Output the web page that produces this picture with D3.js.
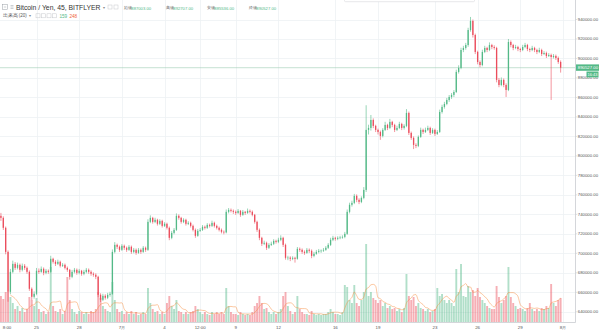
<!DOCTYPE html>
<html><head><meta charset="utf-8">
<script src="https://cdn.jsdelivr.net/npm/d3@7"></script>
<style>
html,body{margin:0;padding:0;background:#fff;overflow:hidden}
svg{display:block}
text{font-family:"Liberation Sans",Arial,sans-serif}
</style>
</head><body>
<svg id="c" width="600" height="333"></svg>
<script>
// ---- data (prices in thousand JPY, 4h candles from 2018-06-22 12:00) ----
const startTime = new Date(2018, 5, 22, 12, 0);
const candleHours = 4;
const ohlc = [
[738.5,741.5,733.3,736.4],[736.4,738.0,724.0,726.2],[726.2,727.5,699.0,701.5],[701.5,703.0,650.3,660.5],
[660.5,684.0,658.0,681.0],[681.0,692.5,679.5,689.2],[689.2,691.0,683.0,685.1],[685.1,690.5,683.5,688.2],
[688.2,689.5,680.5,683.1],[683.1,689.5,681.5,687.2],[687.2,689.0,683.0,685.1],[685.1,686.5,679.0,681.0],
[681.0,682.5,661.5,663.6],[663.6,665.0,652.0,655.4],[655.4,661.0,653.5,658.5],[658.5,685.0,657.0,682.1],
[682.1,684.5,679.0,681.0],[681.0,686.5,680.0,684.1],[684.1,685.5,677.5,680.0],[680.0,684.0,678.5,682.1],
[682.1,683.5,679.0,681.0],[681.0,697.5,680.0,694.4],[694.4,695.5,689.5,691.3],[691.3,693.0,687.0,689.2],
[689.2,693.5,688.0,691.3],[691.3,692.5,685.5,687.2],[687.2,690.0,686.0,688.2],[688.2,689.5,683.5,685.1],
[685.1,686.5,681.0,683.1],[683.1,684.0,673.0,675.9],[675.9,683.0,674.5,681.0],[681.0,685.0,679.5,683.1],
[683.1,684.5,678.0,680.0],[680.0,684.0,678.5,682.1],[682.1,683.0,677.0,679.0],[679.0,683.0,677.5,681.0],
[681.0,685.0,679.5,683.1],[683.1,684.5,679.0,681.0],[681.0,682.5,677.0,679.0],[679.0,680.5,676.0,678.0],
[678.0,679.5,673.5,675.9],[675.9,677.0,655.0,657.4],[657.4,659.0,650.0,652.3],[652.3,658.5,651.0,656.4],
[656.4,658.0,652.5,654.4],[654.4,659.5,653.0,657.4],[657.4,660.5,655.5,658.5],[658.5,704.0,657.5,701.5],
[701.5,711.5,700.0,708.7],[708.7,710.0,704.5,706.7],[706.7,708.0,701.5,703.6],[703.6,709.5,702.5,707.7],
[707.7,709.0,703.5,705.7],[705.7,707.0,701.5,703.6],[703.6,708.5,702.5,706.7],[706.7,708.0,699.5,701.5],
[701.5,705.5,700.0,703.6],[703.6,705.0,698.5,700.5],[700.5,705.5,699.5,703.6],[703.6,705.0,699.5,701.5],
[701.5,707.5,700.5,705.7],[705.7,707.0,701.5,703.6],[703.6,735.0,702.5,732.3],[732.3,739.0,731.0,736.4],
[736.4,737.5,730.5,732.3],[732.3,736.5,731.0,734.4],[734.4,735.5,728.5,730.3],[730.3,735.0,729.0,733.3],
[733.3,734.5,726.5,728.2],[728.2,732.0,727.0,730.3],[730.3,731.5,724.5,726.2],[726.2,727.5,713.5,715.9],
[715.9,723.0,714.5,721.0],[721.0,726.0,719.5,724.1],[724.1,741.0,723.0,738.5],[738.5,740.0,734.5,736.4],
[736.4,737.5,730.5,732.3],[732.3,736.0,731.0,734.4],[734.4,735.5,728.5,730.3],[730.3,733.0,729.0,731.3],
[731.3,732.5,726.5,728.2],[728.2,729.5,722.5,724.1],[724.1,725.5,716.0,718.0],[718.0,725.0,717.0,723.1],
[723.1,726.0,722.0,724.1],[724.1,729.0,723.0,727.2],[727.2,728.5,724.5,726.2],[726.2,731.0,725.0,729.2],
[729.2,730.5,726.5,728.2],[728.2,733.5,727.0,731.3],[731.3,732.5,726.5,728.2],[728.2,729.5,724.5,726.2],
[726.2,727.5,722.5,724.1],[724.1,725.5,720.5,722.1],[722.1,723.5,719.5,721.5],[721.5,745.0,720.5,742.6],
[742.6,746.5,741.0,744.6],[744.6,746.0,742.0,743.6],[743.6,745.0,740.5,742.6],[742.6,744.0,739.5,741.5],
[741.5,745.5,740.5,743.6],[743.6,744.5,737.5,739.5],[739.5,744.5,738.5,742.6],[742.6,743.5,739.5,741.5],
[741.5,746.0,740.5,743.6],[743.6,745.0,741.0,742.6],[742.6,744.0,738.0,739.5],[739.5,740.5,730.5,732.3],
[732.3,733.5,722.0,724.1],[724.1,725.5,713.5,715.9],[715.9,717.0,707.5,709.8],[709.8,713.0,708.5,710.8],
[710.8,712.0,703.5,705.7],[705.7,710.5,704.5,708.7],[708.7,712.0,707.5,709.8],[709.8,714.5,708.5,712.8],
[712.8,714.0,710.0,711.8],[711.8,716.0,710.5,713.9],[713.9,718.5,712.5,715.9],[715.9,717.0,706.5,708.7],
[708.7,710.0,693.5,695.4],[695.4,697.5,693.0,695.6],[695.6,697.0,692.0,694.4],[694.4,697.0,693.0,695.4],
[695.4,696.5,690.5,694.4],[694.4,706.5,693.5,704.6],[704.6,706.0,701.5,703.6],[703.6,705.0,699.5,701.5],
[701.5,703.0,698.5,700.5],[700.5,705.5,699.5,703.6],[703.6,705.0,700.5,702.6],[702.6,704.0,695.0,697.4],
[697.4,701.5,696.0,699.5],[699.5,703.5,698.5,701.5],[701.5,704.5,700.0,702.6],[702.6,704.0,700.5,702.8],
[702.8,705.5,701.5,703.6],[703.6,707.5,702.5,705.7],[705.7,710.5,704.5,708.7],[708.7,716.0,707.5,713.9],
[713.9,718.0,712.5,715.9],[715.9,717.0,713.0,714.9],[714.9,717.5,713.5,715.9],[715.9,718.0,714.5,716.2],
[716.2,718.5,715.0,716.9],[716.9,722.0,715.5,720.0],[720.0,745.0,719.0,742.6],[742.6,752.0,741.0,749.8],
[749.8,754.0,748.0,751.8],[751.8,761.0,750.5,759.0],[759.0,760.5,752.5,754.9],[754.9,756.5,750.5,752.8],
[752.8,758.5,751.5,756.9],[756.9,768.0,755.5,765.1],[765.1,852.0,763.0,826.7],[826.7,832.0,822.0,828.7],
[828.7,842.0,826.0,836.9],[836.9,838.5,828.5,830.8],[830.8,832.0,824.5,826.7],[826.7,828.0,822.0,824.6],
[824.6,826.0,816.5,820.5],[820.5,828.5,819.0,826.7],[826.7,835.0,825.5,831.8],[831.8,833.0,826.5,828.7],
[828.7,838.0,827.5,834.9],[834.9,836.0,829.5,831.8],[831.8,833.0,824.5,826.7],[826.7,831.0,825.5,828.7],
[828.7,835.0,827.5,832.8],[832.8,834.0,826.5,828.7],[828.7,832.5,827.0,830.8],[830.8,848.0,829.5,844.1],
[844.1,845.5,821.5,823.6],[823.6,825.0,816.5,818.5],[818.5,820.0,807.0,811.3],[811.3,813.0,808.0,810.3],
[810.3,821.0,809.0,819.5],[819.5,829.0,818.5,826.7],[826.7,828.0,822.5,824.6],[824.6,829.0,823.5,826.7],
[826.7,831.0,825.5,828.7],[828.7,830.0,821.5,823.6],[823.6,828.5,822.5,826.7],[826.7,828.0,820.5,822.6],
[822.6,826.5,821.5,824.6],[824.6,847.5,823.5,845.1],[845.1,852.5,843.5,850.3],[850.3,855.5,848.5,853.3],
[853.3,859.5,852.0,857.4],[857.4,862.5,855.5,860.5],[860.5,864.5,858.5,862.6],[862.6,867.5,860.5,865.6],
[865.6,888.5,864.5,886.2],[886.2,893.0,884.5,890.3],[890.3,911.0,889.0,908.7],[908.7,913.0,906.5,910.8],
[910.8,916.0,909.0,913.8],[913.8,931.5,912.0,929.2],[929.2,942.6,927.5,938.5],[938.5,940.0,921.5,924.1],
[924.1,925.5,904.5,906.7],[906.7,908.0,894.0,896.4],[896.4,898.0,891.0,893.3],[893.3,909.0,892.0,906.7],
[906.7,913.0,905.5,910.8],[910.8,912.0,906.5,908.7],[908.7,916.5,907.5,913.8],[913.8,915.0,909.5,911.8],
[911.8,913.5,909.0,910.8],[910.8,912.0,875.5,878.0],[878.0,880.0,870.5,872.8],[872.8,880.5,871.5,878.0],
[878.0,879.5,870.5,872.8],[872.8,874.5,860.5,867.7],[867.7,920.0,866.5,916.9],[916.9,918.5,911.5,913.8],
[913.8,915.0,908.5,910.8],[910.8,914.0,909.5,911.8],[911.8,913.0,907.5,909.7],[909.7,911.0,906.5,908.7],
[908.7,914.0,907.5,911.8],[911.8,916.0,910.5,913.8],[913.8,915.0,907.5,909.7],[909.7,911.0,906.5,908.7],
[908.7,913.0,907.5,910.8],[910.8,912.0,906.5,908.7],[908.7,910.0,904.5,906.7],[906.7,911.0,905.5,908.7],
[908.7,910.0,902.5,904.6],[904.6,907.5,903.5,905.6],[905.6,907.0,900.5,902.6],[902.6,905.5,901.5,903.6],
[903.6,905.0,857.4,901.5],[901.5,904.5,900.0,902.6],[902.6,904.0,898.5,900.5],[900.5,902.0,894.5,896.4],
[896.4,898.0,885.5,890.527]
];
const volume = [
1300,1150,1500,1500,1250,950,650,800,550,700,500,650,
1250,1100,800,1200,650,500,550,400,500,
2750,800,550,500,650,400,550,2250,
1100,650,500,400,550,500,400,500,400,550,500,650,
1500,1200,800,650,550,500,
2000,1100,650,500,550,400,500,400,550,400,500,350,400,500,400,
1700,950,650,500,550,400,500,400,950,1300,800,650,
1100,550,500,400,500,400,500,550,800,650,500,400,500,400,350,500,400,500,400,500,400,
1700,800,500,400,400,350,500,400,350,400,350,500,
800,950,1300,950,650,700,500,400,500,400,500,650,
1300,1500,800,550,400,500,
1300,650,500,400,400,350,550,400,350,400,350,400,400,500,650,500,400,400,350,500,
1850,1750,1100,950,1850,950,800,1100,1500,
3900,1300,1500,1200,1100,950,1100,800,950,700,800,650,700,550,650,500,700,
2400,1300,1100,1250,800,950,700,650,550,650,500,550,650,
1700,1300,1400,1100,950,1100,950,800,
2650,1500,2900,1300,1250,1800,1500,1600,
1300,1700,1250,1100,950,800,700,650,650,
1800,1250,950,1100,1300,
2750,1250,950,800,650,700,650,550,700,950,650,550,650,550,700,650,800,700,1900,950,800,1100,1200
];
const priceTicks = [640000,660000,680000,700000,720000,740000,760000,780000,800000,820000,840000,860000,880000,900000,920000,940000];
const timeTicks = [
  [new Date(2018,5,22,8), "8:00"], [new Date(2018,5,25), "25"], [new Date(2018,5,28), "28"],
  [new Date(2018,6,1), "7月"], [new Date(2018,6,4), "4"], [new Date(2018,6,6,12), "12:00"],
  [new Date(2018,6,9), "9"], [new Date(2018,6,12), "12"], [new Date(2018,6,16), "16"],
  [new Date(2018,6,19), "19"], [new Date(2018,6,23), "23"], [new Date(2018,6,26), "26"],
  [new Date(2018,6,29), "29"], [new Date(2018,7,1), "8月"]
];
const headerLabels = ["始値","高値","安値","終値"];
const headerValues = ["887003.00","892707.00","885536.00","890527.00"];
const lastPrice = 890527;
const countdown = "16:43";
const volumeHeader = ["159","248"];

// ---- styles ----
const UP = "#53b987", DOWN = "#eb4d5c";
const svg = d3.select("#c");
const plotR = 575.5, plotB = 322;

const data = ohlc.map((r, i) => ({
  t: new Date(startTime.getTime() + i * candleHours * 3600e3),
  o: r[0]*1000, h: r[1]*1000, l: r[2]*1000, c: r[3]*1000, v: volume[i]
}));

const x = d3.scaleTime().domain([new Date(2018,5,25), new Date(2018,7,1)]).range([36.5, 563]);
const y = d3.scaleLinear().domain([640000, 940000]).range([311.8, 19.5]);
const yv = d3.scaleLinear().domain([0, 4000]).range([plotB, plotB - 80]);

svg.append("rect").attr("width",600).attr("height",333).attr("fill","#fff");

// grid
const g = svg.append("g");
g.selectAll(".hg").data(priceTicks).enter().append("line")
  .attr("x1",0).attr("x2",plotR).attr("y1",d=>Math.round(y(d))+0.5).attr("y2",d=>Math.round(y(d))+0.5)
  .attr("stroke","#eef1f4").attr("stroke-width",0.8);
g.selectAll(".vg").data(timeTicks).enter().append("line")
  .attr("x1",d=>Math.round(x(d[0]))+0.5).attr("x2",d=>Math.round(x(d[0]))+0.5)
  .attr("y1",0).attr("y2",plotB)
  .attr("stroke","#eef1f4").attr("stroke-width",0.8);

// clip
svg.append("clipPath").attr("id","clip").append("rect").attr("x",0).attr("y",0).attr("width",plotR).attr("height",plotB);
const pane = svg.append("g").attr("clip-path","url(#clip)");

// volume
const bw = 1.9;
pane.selectAll(".vb").data(data).enter().append("rect")
  .attr("x",d=>x(d.t)-bw/2).attr("width",bw)
  .attr("y",d=>yv(d.v)).attr("height",d=>plotB-yv(d.v))
  .attr("fill",d=>d.c>=d.o?"rgba(83,185,135,0.45)":"rgba(235,77,92,0.45)");

// volume MA
const maN = 5;
const ma = data.map((d,i)=>{ if(i<maN-1) return null; let s=0; for(let k=i-maN+1;k<=i;k++) s+=data[k].v; return {t:d.t, v:s/maN}; }).filter(Boolean);
pane.append("path").datum(ma)
  .attr("d", d3.line().x(d=>x(d.t)).y(d=>yv(d.v)).curve(d3.curveMonotoneX))
  .attr("fill","none").attr("stroke","rgba(247,140,60,0.6)").attr("stroke-width",0.8);

// current price line
pane.append("line").attr("x1",0).attr("x2",plotR).attr("y1",y(lastPrice)).attr("y2",y(lastPrice))
  .attr("stroke","#9fcdb4").attr("stroke-width",0.6);

// candles
const cw = 1.3;
const cg = pane.selectAll(".cd").data(data).enter().append("g");
cg.append("line").attr("x1",d=>x(d.t)).attr("x2",d=>x(d.t)).attr("y1",d=>y(d.h)).attr("y2",d=>y(d.l))
  .attr("stroke",d=>d.c>=d.o?UP:DOWN).attr("stroke-width",0.6);
cg.append("rect").attr("x",d=>x(d.t)-cw/2).attr("width",cw)
  .attr("y",d=>y(Math.max(d.o,d.c))).attr("height",d=>Math.max(0.6,Math.abs(y(d.o)-y(d.c))))
  .attr("fill",d=>d.c>=d.o?UP:DOWN);

// axes lines
svg.append("line").attr("x1",plotR).attr("x2",plotR).attr("y1",0).attr("y2",plotB+0.5).attr("stroke","#c9ccd1").attr("stroke-width",0.8);
svg.append("line").attr("x1",0).attr("x2",plotR).attr("y1",plotB+0.5).attr("y2",plotB+0.5).attr("stroke","#c9ccd1").attr("stroke-width",0.8);

// y axis labels
const fmt = d3.format(".2f");
svg.selectAll(".yl").data(priceTicks).enter().append("text")
  .attr("x",577.8).attr("y",d=>y(d)).attr("dy","0.35em")
  .attr("font-size",4.3).attr("fill","#555").text(d=>fmt(d));
svg.selectAll(".yt").data(priceTicks).enter().append("line")
  .attr("x1",plotR).attr("x2",plotR+1.8).attr("y1",d=>y(d)).attr("y2",d=>y(d)).attr("stroke","#c9ccd1").attr("stroke-width",0.6);

// last price tag
const ly = y(lastPrice);
svg.append("rect").attr("x",plotR+0.5).attr("y",ly-3.3).attr("width",23).attr("height",6.4).attr("fill",UP);
svg.append("text").attr("x",577.8).attr("y",ly).attr("dy","0.35em").attr("font-size",4.3).attr("fill","#fff").text(fmt(lastPrice));
svg.append("rect").attr("x",586.5).attr("y",ly+3.8).attr("width",12).attr("height",5.8).attr("fill",UP);
svg.append("text").attr("x",592.5).attr("y",ly+6.9).attr("dy","0.35em").attr("text-anchor","middle").attr("font-size",4).attr("fill","#fff").text(countdown);

// x axis labels
svg.selectAll(".xl").data(timeTicks).enter().append("text")
  .attr("x",d=>Math.max(7, x(d[0]))).attr("y",327).attr("dy","0.35em").attr("text-anchor","middle")
  .attr("font-size",4.4).attr("fill","#555").text(d=>d[1]);

// top popup remnant
svg.append("rect").attr("x",344.5).attr("y",-4).attr("width",130).attr("height",5.7).attr("fill","#fff").attr("stroke","#d6d8dc").attr("stroke-width",0.6).attr("rx",1);

// header line 1
const h = svg.append("g");
h.append("rect").attr("x",2.5).attr("y",4.5).attr("width",5).attr("height",5).attr("fill","none").attr("stroke","#9aa0a6").attr("stroke-width",0.5);
h.append("line").attr("x1",3.8).attr("x2",6.2).attr("y1",7).attr("y2",7).attr("stroke","#9aa0a6").attr("stroke-width",0.5);
[5.5,7,8.5].forEach(v=>h.append("line").attr("x1",10.5).attr("x2",13.5).attr("y1",v).attr("y2",v).attr("stroke","#9aa0a6").attr("stroke-width",0.5));
h.append("text").attr("x",16).attr("y",9.8).attr("font-size",6.8).attr("fill","#333").text("Bitcoin / Yen, 45, BITFLYER");
h.append("text").attr("x",102.5).attr("y",9).attr("font-size",3.8).attr("fill","#888").text("▾");
[108,114].forEach(v=>h.append("rect").attr("x",v).attr("y",5).attr("width",4).attr("height",4).attr("fill","none").attr("stroke","#c5c8cc").attr("stroke-width",0.5));
const hx = [123.5,165.5,206.5,248.5];
headerLabels.forEach((l,i)=>{
  h.append("text").attr("x",hx[i]).attr("y",9.3).attr("font-size",3.6).attr("fill","#666").attr("font-family","Noto Sans CJK JP").text(l);
  h.append("text").attr("x",hx[i]+7.8).attr("y",9.5).attr("font-size",4.2).attr("fill",UP).text(headerValues[i]);
});
// header line 2
h.append("text").attr("x",2.5).attr("y",17.3).attr("font-size",4.5).attr("fill","#555").attr("font-family","Noto Sans CJK JP").text("出来高 (20)");
h.append("text").attr("x",29).attr("y",17).attr("font-size",3.8).attr("fill","#888").text("▾");
[36,41.5,47,52.5].forEach(v=>h.append("rect").attr("x",v).attr("y",13.8).attr("width",4).attr("height",4).attr("fill","none").attr("stroke","#c5c8cc").attr("stroke-width",0.5));
h.append("text").attr("x",59.5).attr("y",17.5).attr("font-size",4.6).attr("fill",UP).text(volumeHeader[0]);
h.append("text").attr("x",69.5).attr("y",17.5).attr("font-size",4.6).attr("fill","#f0643c").text(volumeHeader[1]);
</script>
</body></html>
